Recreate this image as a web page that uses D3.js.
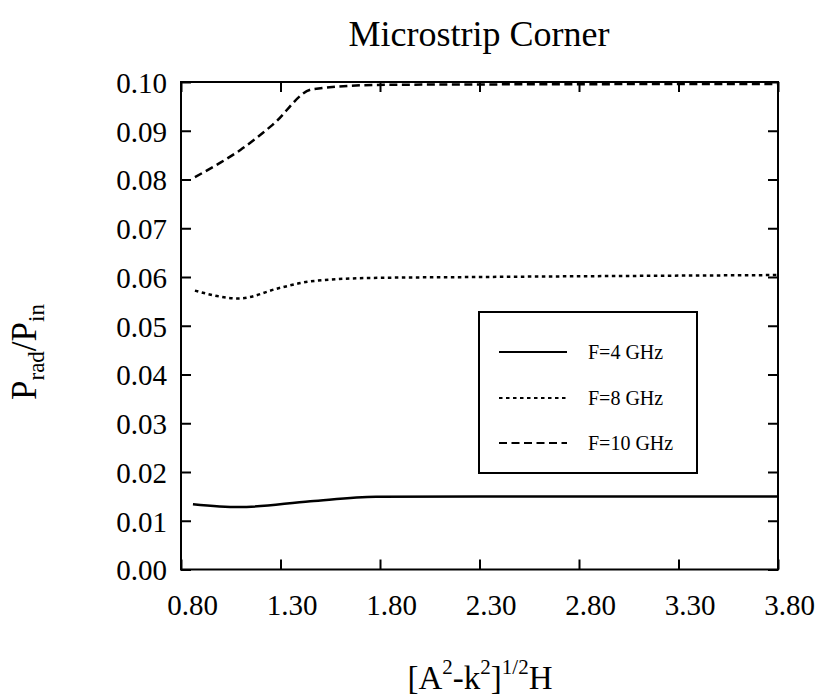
<!DOCTYPE html>
<html>
<head>
<meta charset="utf-8">
<script src="https://cdn.jsdelivr.net/npm/d3@7"></script>
<style>
  html, body { margin: 0; padding: 0; background: #fff; }
  svg { display: block; }
  text { font-family: "Liberation Serif", "Times New Roman", serif; fill: #000; }
</style>
</head>
<body>
<svg id="chart" width="820" height="698"></svg>
<script>
// ---- data ----
const title = "Microstrip Corner";
const xTicks = [0.80, 1.30, 1.80, 2.30, 2.80, 3.30, 3.80];
const yTicks = [0.00, 0.01, 0.02, 0.03, 0.04, 0.05, 0.06, 0.07, 0.08, 0.09, 0.10];
const seriesNames = ["F=4 GHz", "F=8 GHz", "F=10 GHz"];
const f4x  = [0.86, 1.09, 1.45, 1.78, 2.30, 3.80];
const f4y  = [0.0134, 0.0128, 0.0140, 0.0149, 0.0150, 0.0150];
const f8x  = [0.87, 1.09, 1.30, 1.45, 1.75, 2.30, 3.80];
const f8y  = [0.0572, 0.0556, 0.0578, 0.0591, 0.0598, 0.0600, 0.0604];
const f10x = [0.87, 1.00, 1.10, 1.26, 1.46, 1.78, 2.30, 3.80];
const f10y = [0.0805, 0.0835, 0.0861, 0.0912, 0.0985, 0.0994, 0.0995, 0.0996];

const series = [
  { name: seriesNames[0], xs: f4x,  ys: f4y,  dash: null },
  { name: seriesNames[1], xs: f8x,  ys: f8y,  dash: "3.5,3.5" },
  { name: seriesNames[2], xs: f10x, ys: f10y, dash: "8,4.5" }
];

// ---- layout ----
const svg = d3.select("#chart");
const L = 181, R = 778, T = 82, B = 569.5;
const x = d3.scaleLinear().domain([0.80, 3.80]).range([L, R]);
const y = d3.scaleLinear().domain([0.00, 0.10]).range([B, T]);
const tickLen = 10;

// title
svg.append("text").attr("x", 479).attr("y", 46)
  .attr("text-anchor", "middle").style("font-size", "36px").text(title);

// frame
svg.append("rect").attr("x", L).attr("y", T).attr("width", R - L).attr("height", B - T)
  .attr("fill", "none").attr("stroke", "#000").attr("stroke-width", 2);

// axes (inward ticks)
const fmt2 = d3.format(".2f");
const xb = svg.append("g").attr("transform", `translate(0,${B})`)
  .call(d3.axisBottom(x).tickValues(xTicks).tickSize(-tickLen).tickPadding(0).tickFormat(fmt2));
const xt = svg.append("g").attr("transform", `translate(0,${T})`)
  .call(d3.axisTop(x).tickValues(xTicks).tickSize(-tickLen).tickFormat(""));
const yl = svg.append("g").attr("transform", `translate(${L},0)`)
  .call(d3.axisLeft(y).tickValues(yTicks).tickSize(-tickLen).tickFormat(fmt2));
const yr = svg.append("g").attr("transform", `translate(${R},0)`)
  .call(d3.axisRight(y).tickValues(yTicks).tickSize(-tickLen).tickFormat(""));

[xb, xt, yl, yr].forEach(g => {
  g.select(".domain").remove();
  g.selectAll(".tick line").attr("stroke", "#000").attr("stroke-width", 2);
  g.selectAll(".tick text").style("font-family", "'Liberation Serif', 'Times New Roman', serif");
});
xb.selectAll(".tick text").style("font-size", "29px").attr("y", 45).attr("dy", 0).attr("dx", 11).attr("fill", "#000");
yl.selectAll(".tick text").style("font-size", "29px").attr("x", -14).attr("dy", "0.36em").attr("fill", "#000")
  .attr("text-anchor", "end");

// lines
const line = d3.line().x(d => x(d[0])).y(d => y(d[1])).curve(d3.curveMonotoneX);
series.forEach(s => {
  const pts = s.xs.map((v, i) => [v, s.ys[i]]);
  svg.append("path").datum(pts).attr("d", line)
    .attr("fill", "none").attr("stroke", "#000").attr("stroke-width", 2.5)
    .attr("stroke-dasharray", s.dash);
});

// legend
const lg = svg.append("g");
lg.append("rect").attr("x", 479).attr("y", 312).attr("width", 218).attr("height", 161)
  .attr("fill", "#fff").attr("stroke", "#000").attr("stroke-width", 2);
const rowY = [352, 398, 443];
series.forEach((s, i) => {
  lg.append("line").attr("x1", 499).attr("x2", 567).attr("y1", rowY[i]).attr("y2", rowY[i])
    .attr("stroke", "#000").attr("stroke-width", 2).attr("stroke-dasharray", s.dash);
  lg.append("text").attr("x", 588).attr("y", rowY[i] + 7).style("font-size", "20px").text(s.name);
});

// x axis title: [A^2-k^2]^{1/2}H
const xt2 = svg.append("text").attr("x", 480).attr("y", 689).attr("text-anchor", "middle")
  .style("font-size", "33px");
xt2.append("tspan").text("[A");
xt2.append("tspan").attr("dy", -15).style("font-size", "21px").text("2");
xt2.append("tspan").attr("dy", 15).text("-k");
xt2.append("tspan").attr("dy", -15).style("font-size", "21px").text("2");
xt2.append("tspan").attr("dy", 15).text("]");
xt2.append("tspan").attr("dy", -15).style("font-size", "21px").text("1/2");
xt2.append("tspan").attr("dy", 15).text("H");

// y axis title: P_rad/P_in
const yt = svg.append("text").attr("transform", "translate(36,352) rotate(-90)")
  .attr("text-anchor", "middle").style("font-size", "35px");
yt.append("tspan").text("P");
yt.append("tspan").attr("dy", 8).style("font-size", "23px").text("rad");
yt.append("tspan").attr("dy", -8).text("/P");
yt.append("tspan").attr("dy", 8).style("font-size", "23px").text("in");
</script>
</body>
</html>
